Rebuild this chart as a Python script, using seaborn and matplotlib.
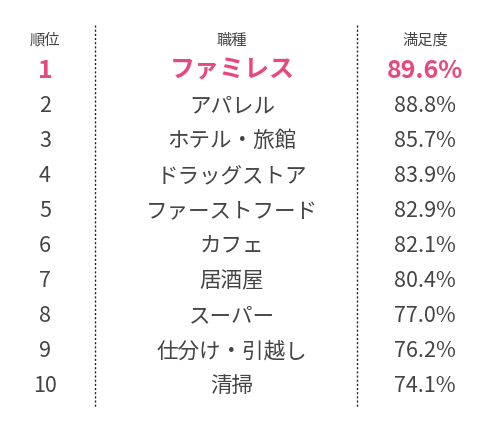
import seaborn as sns
import matplotlib.pyplot as plt

headers = ['順位', '職種', '満足度']
ranks = ['1', '2', '3', '4', '5', '6', '7', '8', '9', '10']
jobs = ['ファミレス', 'アパレル', 'ホテル・旅館', 'ドラッグストア', 'ファーストフード',
        'カフェ', '居酒屋', 'スーパー', '仕分け・引越し', '清掃']
rates = [89.6, 88.8, 85.7, 83.9, 82.9, 82.1, 80.4, 77.0, 76.2, 74.1]

sns.set_theme(style='white')
plt.rcParams['font.family'] = ['Noto Sans CJK JP', 'DejaVu Sans']

fig = plt.figure(figsize=(4.98, 4.21), dpi=100)
ax = fig.add_axes([0, 0, 1, 1])
ax.set_xlim(0, 498)
ax.set_ylim(421, 0)
ax.axis('off')

gray = '#444444'
pink = '#e8487f'
col_x = [45, 232, 425]

for x, h in zip(col_x, headers):
    ax.text(x, 40, h, ha='center', va='center', fontsize=11, color=gray)

for i, (r, j, v) in enumerate(zip(ranks, jobs, rates)):
    y = 71 + i * 35
    if i == 0:
        kw = dict(fontsize=18, color=pink, fontweight='bold')
    else:
        kw = dict(fontsize=15.5, color=gray)
    ax.text(col_x[0], y, r, ha='center', va='center', **kw)
    ax.text(col_x[1], y, j, ha='center', va='center', **kw)
    ax.text(col_x[2], y, f'{v:.1f}%', ha='center', va='center', **kw)

for x in [95, 357]:
    ax.plot([x, x], [25, 408], color='#222222', lw=1, ls=(0, (1.5, 1.5)))

fig.savefig('out.png', dpi=100)
